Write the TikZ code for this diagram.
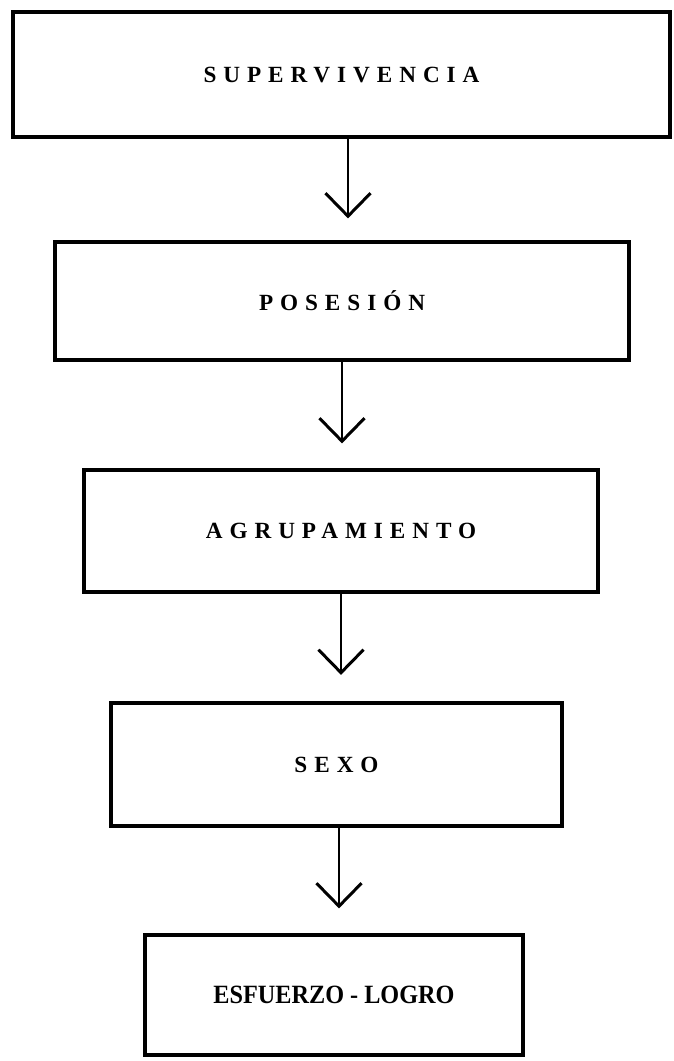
\documentclass[tikz,border=0pt]{standalone}
\usepackage{fontspec}
\setmainfont{Liberation Serif}
\usetikzlibrary{arrows.meta}

\begin{document}
\begin{tikzpicture}[x=0.02cm,y=-0.02cm,
    caja/.style={draw,line width=1.9pt,inner sep=0pt,
      font=\fontsize{13.2}{14}\selectfont\bfseries\addfontfeatures{LetterSpace=30}},
    flecha/.style={line width=1.7pt,-{Straight Barb[length=0.46cm,width=0.9cm]}}]
  \useasboundingbox (0,0) rectangle (673,1061);

  \node[caja,minimum width=13.14cm,minimum height=2.5cm]  (superv)   at (341.5,74.5) {SUPERVIVENCIA};
  \node[caja,minimum width=11.48cm,minimum height=2.36cm] (posesion) at (342,301)   {POSESIÓN};
  \node[caja,minimum width=10.28cm,minimum height=2.44cm] (agrup)    at (341,531)   {AGRUPAMIENTO};
  \node[caja,minimum width=9.02cm,minimum height=2.46cm]  (sexo)     at (336.5,764.5) {SEXO};
  \node[caja,minimum width=7.56cm,minimum height=2.4cm,
        font=\fontsize{15}{16}\selectfont\bfseries] (esfuerzo) at (334,995) {\scalebox{0.92}[1]{ESFUERZO - LOGRO}};

  \draw[flecha,shorten >=0.44cm] ([xshift=0.13cm]superv.south) -- ([xshift=0.13cm]superv.south |- posesion.north);
  \draw[flecha,shorten >=0.5cm]  (posesion.south) -- (posesion.south |- agrup.north);
  \draw[flecha,shorten >=0.53cm] (agrup.south) -- (agrup.south |- sexo.north);
  \draw[flecha,shorten >=0.5cm]  ([xshift=0.05cm]sexo.south) -- ([xshift=0.05cm]sexo.south |- esfuerzo.north);
\end{tikzpicture}
\end{document}
